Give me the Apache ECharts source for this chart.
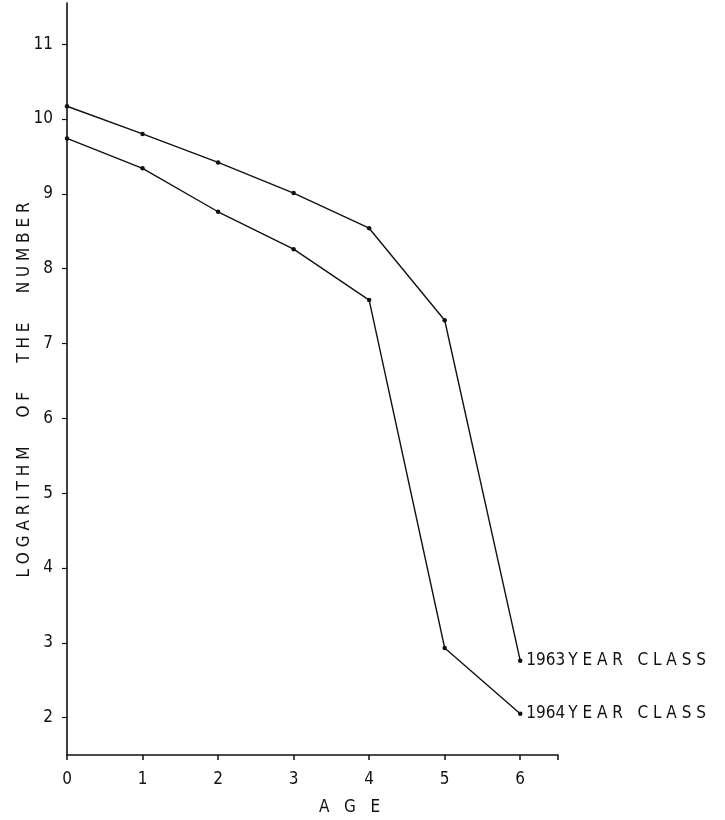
<!DOCTYPE html>
<html>
<head>
<meta charset="utf-8">
<script src="https://cdn.jsdelivr.net/npm/echarts@6/dist/echarts.min.js"></script>
<style>
  html, body { margin: 0; padding: 0; background: #fff; }
  #chart { width: 725px; height: 820px; }
</style>
</head>
<body>
<div id="chart"></div>
<script>
// Age of the fish (years)
const ages = [0, 1, 2, 3, 4, 5, 6];
// Logarithm of the number surviving, per year class
const yc1963 = [10.17, 9.80, 9.42, 9.01, 8.54, 7.31, 2.76];
const yc1964 = [9.74, 9.34, 8.76, 8.26, 7.58, 2.93, 2.05];
const seriesNames = ['1963\u2009Y E A R   C L A S S', '1964\u2009Y E A R   C L A S S'];
const xTicks = [0, 1, 2, 3, 4, 5, 6];
const yTicks = [2, 3, 4, 5, 6, 7, 8, 9, 10, 11];

const font = '"DejaVu Sans Condensed", "Liberation Sans Narrow", "DejaVu Sans", sans-serif';
const ink = '#111';

function pairs(vals) {
  return ages.map((a, i) => [a, vals[i]]);
}

function lineSeries(name, vals) {
  return {
    name: name,
    type: 'line',
    data: pairs(vals),
    symbol: 'circle',
    symbolSize: 4.5,
    lineStyle: { color: ink, width: 1.4 },
    itemStyle: { color: ink },
    endLabel: {
      show: true,
      formatter: name,
      color: ink,
      fontFamily: font,
      fontSize: 17,
      distance: 6
    },
    silent: true,
    animation: false
  };
}

const chart = echarts.init(document.getElementById('chart'));
chart.setOption({
  backgroundColor: '#fff',
  animation: false,
  grid: { left: 67, right: 167, top: 3, bottom: 65, outerBoundsMode: 'none', containLabel: false },
  xAxis: {
    type: 'value',
    min: 0,
    max: 6.5,
    interval: 1,
    name: 'A   G   E',
    nameLocation: 'middle',
    nameGap: 44,
    nameMoveOverlap: false,
    nameTextStyle: { color: ink, fontFamily: font, fontSize: 17, padding: [0, 0, 0, 74] },
    axisLine: { lineStyle: { color: ink, width: 1.6 } },
    axisTick: { show: true, length: 5, lineStyle: { color: ink, width: 1.5 } },
    axisLabel: {
      color: ink, fontFamily: font, fontSize: 17, margin: 16,
      customValues: xTicks,
      formatter: v => String(v)
    },
    splitLine: { show: false }
  },
  yAxis: {
    type: 'value',
    min: 1.5,
    max: 11.55,
    name: 'L O G A R I T H M      O F      T H E      N U M B E R',
    nameLocation: 'middle',
    nameGap: 34,
    nameMoveOverlap: false,
    nameRotate: 90,
    nameTextStyle: { color: ink, fontFamily: font, fontSize: 17, padding: [0, 22, 0, 0] },
    axisLine: { show: true, lineStyle: { color: ink, width: 1.6 } },
    axisTick: { show: true, length: 5, customValues: yTicks, lineStyle: { color: ink, width: 1.2 } },
    axisLabel: {
      color: ink, fontFamily: font, fontSize: 17, margin: 14,
      customValues: yTicks,
      formatter: v => String(v)
    },
    splitLine: { show: false }
  },
  series: [
    lineSeries(seriesNames[0], yc1963),
    lineSeries(seriesNames[1], yc1964)
  ]
});
</script>
</body>
</html>
